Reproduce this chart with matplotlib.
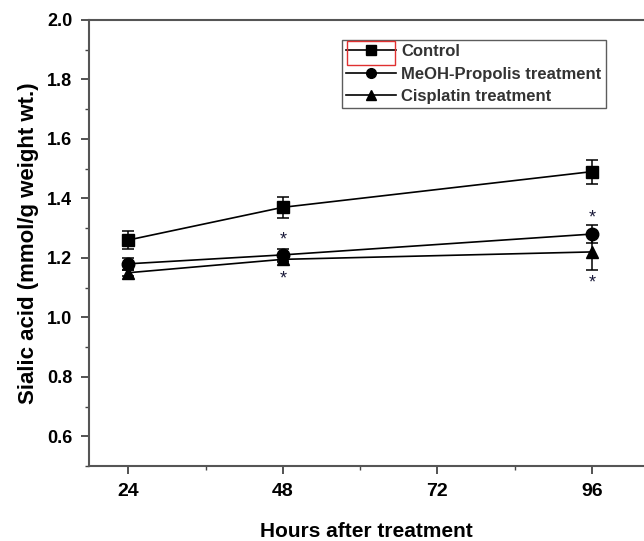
import matplotlib
matplotlib.use('Agg')
import matplotlib.pyplot as plt
from matplotlib.lines import Line2D
from matplotlib.patches import Rectangle
from matplotlib.ticker import MultipleLocator

plt.rcParams['font.family'] = ['Liberation Sans', 'DejaVu Sans']

# Data
HOURS = [24, 48, 96]
CONTROL = [1.26, 1.37, 1.49]
CONTROL_ERR = [0.03, 0.035, 0.04]
MEOH = [1.18, 1.21, 1.28]
MEOH_ERR = [0.02, 0.02, 0.03]
CISPLATIN = [1.15, 1.195, 1.22]
CISPLATIN_ERR = [0.01, 0.01, 0.06]

# significance marks: (hour, y)
STAR_POS = [(48, 1.26), (48, 1.13), (96, 1.335), (96, 1.115)]

fig = plt.figure(figsize=(6.44, 5.41), dpi=100)
ax = fig.add_axes([89 / 644, 75 / 541, 1 - 89 / 644, 446 / 541])

series = [
    (CONTROL, CONTROL_ERR, 's', 'Control'),
    (MEOH, MEOH_ERR, 'o', 'MeOH-Propolis treatment'),
    (CISPLATIN, CISPLATIN_ERR, '^', 'Cisplatin treatment'),
]
handles = []
for vals, err, mk, lab in series:
    ax.errorbar(HOURS, vals, yerr=err, color='black', marker=mk, markersize=9,
                linewidth=1.2, elinewidth=1.1, capsize=4, capthick=1.1)
    handles.append(Line2D([], [], color='black', marker=mk, markersize=7,
                          linewidth=1.2, label=lab))

for x, y in STAR_POS:
    ax.text(x, y, '*', fontsize=13, ha='center', va='center', color='#1a1a3a')

ax.set_xlim(17.9, 104.1)
ax.set_ylim(0.5, 2.0)
ax.set_xticks([24, 48, 72, 96])
ax.xaxis.set_minor_locator(MultipleLocator(12))
ax.set_yticks([0.6, 0.8, 1.0, 1.2, 1.4, 1.6, 1.8, 2.0])
ax.yaxis.set_minor_locator(MultipleLocator(0.1))

for s in ['left', 'top', 'bottom']:
    ax.spines[s].set_color('#555555')
    ax.spines[s].set_linewidth(1.5)
ax.spines['right'].set_visible(False)

ax.tick_params(which='major', direction='out', length=6, width=1.3, color='#444444', pad=6)
ax.tick_params(which='minor', direction='out', length=3, width=1.0, color='#444444')
ax.tick_params(axis='x', which='both', top=False, labelsize=14)
ax.tick_params(axis='y', labelsize=13)
for lbl in ax.get_xticklabels() + ax.get_yticklabels():
    lbl.set_fontweight('bold')

ax.set_xlabel('Hours after treatment', fontsize=15, fontweight='bold', labelpad=16)
ax.set_ylabel('Sialic acid (mmol/g weight wt.)', fontsize=16, fontweight='bold', labelpad=6)

leg = ax.legend(handles=handles, loc='upper left', bbox_to_anchor=(253 / 555, 426 / 446),
                fontsize=12, frameon=True, fancybox=False, edgecolor='#333333',
                borderpad=0.25, handlelength=3.0, handletextpad=0.3, labelspacing=0.45,
                borderaxespad=0)
leg.get_frame().set_linewidth(1.0)
for t in leg.get_texts():
    t.set_fontweight('bold')
    t.set_color('#333333')

# red selection box around the first legend handle
fig.patches.append(Rectangle((347 / 644, 1 - 65 / 541), 48 / 644, 24 / 541,
                             transform=fig.transFigure, fill=False,
                             edgecolor='#e03030', linewidth=1.0))

fig.savefig('out.png', dpi=100)
